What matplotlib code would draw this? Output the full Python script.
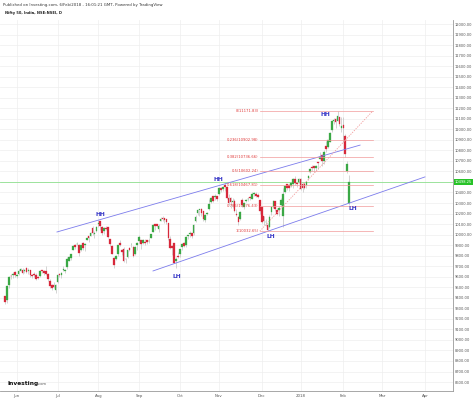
import numpy as np
import pandas as pd
import matplotlib
matplotlib.use('Agg')
import matplotlib.pyplot as plt
import matplotlib.transforms as mtransforms

# Nifty 50 daily bars, 24 May 2017 - 6 Feb 2018
opens = [9414, 9380, 9520, 9605, 9615, 9645,
         9605, 9628, 9657, 9667, 9651, 9680, 9650, 9662, 9620, 9620, 9617, 9590, 9603, 9660, 9650, 9650, 9630, 9560, 9525, 9520, 9470,
         9554, 9623, 9614, 9660, 9654, 9689, 9754, 9776, 9856, 9906, 9908, 9900, 9850, 9923, 9900, 9949, 9985, 9983, 10063, 10008, 10034,
         10101, 10125, 10075, 10032, 10066, 10074, 9960, 9895, 9780, 9770, 9812, 9920, 9850, 9865, 9770, 9785, 9875, 9907, 9886, 9813, 9905,
         9937, 9946, 9917, 9934, 9949, 9935, 9970, 10028, 10097, 10103, 10056, 10130, 10162, 10155, 10145, 10110, 9960, 9890, 9920, 9749, 9797,
         9814, 9887, 9921, 9901, 9989, 10007, 10012, 10011, 10125, 10207, 10233, 10244, 10223, 10140, 10200, 10243, 10311, 10363, 10353, 10364,
         10390, 10440, 10432, 10471, 10451, 10350, 10347, 10309, 10322, 10196, 10168, 10151, 10325, 10262, 10322, 10334, 10360, 10342, 10389, 10385, 10375, 10332,
         10263, 10175, 10118, 10087, 10068, 10218, 10263, 10317, 10235, 10230, 10279, 10180, 10403, 10477, 10474, 10460, 10480, 10531, 10493, 10500,
         10532, 10477, 10482, 10469, 10534, 10592, 10645, 10652, 10637, 10682, 10718, 10760, 10703, 10841, 10829, 10883, 10997, 11079, 11095, 11079, 11120, 11011,
         11045, 10938, 10604, 10296]
highs = [9419, 9525, 9604, 9625, 9649, 9655,
         9630, 9673, 9683, 9680, 9675, 9690, 9685, 9666, 9625, 9645, 9631, 9603, 9665, 9665, 9660, 9698, 9636, 9574, 9530, 9548, 9530,
         9624, 9631, 9645, 9700, 9676, 9783, 9798, 9819, 9897, 9913, 9928, 9907, 9904, 9928, 9924, 9982, 9986, 10023, 10084, 10036, 10085,
         10137, 10129, 10078, 10075, 10085, 10077, 9963, 9905, 9790, 9810, 9905, 9948, 9868, 9879, 9780, 9858, 9881, 9925, 9888, 9890, 9926,
         9995, 9948, 9963, 9955, 9953, 9964, 10010, 10099, 10098, 10103, 10098, 10172, 10179, 10162, 10153, 10115, 9986, 9897, 9920, 9788, 9832,
         9868, 9920, 9932, 9989, 10000, 10034, 10014, 10104, 10191, 10242, 10236, 10251, 10225, 10192, 10217, 10340, 10355, 10366, 10384, 10368,
         10451, 10453, 10462, 10490, 10461, 10384, 10355, 10344, 10334, 10248, 10175, 10224, 10343, 10311, 10340, 10358, 10369, 10402, 10403, 10400, 10391, 10332,
         10272, 10179, 10147, 10115, 10182, 10271, 10326, 10320, 10257, 10276, 10350, 10443, 10463, 10480, 10480, 10502, 10534, 10553, 10498, 10538,
         10537, 10495, 10504, 10513, 10566, 10631, 10659, 10655, 10664, 10690, 10782, 10763, 10803, 10887, 10895, 10975, 11092, 11111, 11111, 11172, 11121, 11118,
         11118, 10954, 10698, 10566]
lows = [9340, 9355, 9496, 9578, 9590, 9600,
        9587, 9620, 9650, 9628, 9631, 9640, 9630, 9600, 9590, 9600, 9570, 9575, 9595, 9632, 9615, 9620, 9560, 9490, 9475, 9490, 9448,
        9540, 9600, 9588, 9650, 9634, 9676, 9752, 9760, 9853, 9860, 9902, 9797, 9843, 9858, 9845, 9945, 9934, 9983, 10001, 9970, 10023,
        10072, 10044, 10000, 10003, 10046, 9972, 9890, 9813, 9685, 9755, 9795, 9890, 9808, 9740, 9735, 9776, 9842, 9882, 9786, 9810, 9850,
        9924, 9861, 9915, 9900, 9912, 9920, 9965, 10028, 10041, 10071, 10025, 10126, 10130, 10106, 10097, 9952, 9860, 9811, 9727, 9687, 9775,
        9790, 9856, 9880, 9887, 9960, 9981, 9966, 9996, 10123, 10191, 10179, 10175, 10131, 10124, 10183, 10232, 10298, 10311, 10330, 10322,
        10373, 10405, 10412, 10417, 10336, 10285, 10256, 10253, 10216, 10175, 10094, 10140, 10263, 10239, 10312, 10315, 10326, 10341, 10363, 10355, 10343, 10195,
        10108, 10095, 10080, 10033, 10062, 10188, 10256, 10225, 10184, 10176, 10271, 10074, 10396, 10420, 10414, 10448, 10443, 10475, 10448, 10488,
        10424, 10404, 10429, 10442, 10520, 10588, 10604, 10592, 10612, 10620, 10715, 10656, 10666, 10787, 10827, 10882, 10979, 11047, 11009, 11079, 11033, 10979,
        10878, 10737, 10586, 10277]
closes = [9360, 9510, 9595, 9604, 9625, 9621,
          9616, 9653, 9675, 9637, 9664, 9647, 9668, 9616, 9606, 9618, 9578, 9588, 9657, 9653, 9633, 9630, 9574, 9511, 9491, 9504, 9521,
          9616, 9613, 9637, 9675, 9665, 9771, 9786, 9816, 9892, 9886, 9915, 9828, 9899, 9873, 9915, 9966, 9964, 10020, 10020, 10014, 10077,
          10115, 10081, 10013, 10066, 10057, 9978, 9908, 9820, 9710, 9794, 9897, 9904, 9837, 9754, 9765, 9852, 9857, 9912, 9797, 9884, 9918,
          9974, 9913, 9952, 9916, 9930, 9935, 10007, 10093, 10079, 10086, 10085, 10153, 10148, 10141, 10121, 9964, 9872, 9871, 9735, 9768, 9789,
          9859, 9914, 9888, 9979, 9989, 10016, 9984, 10096, 10167, 10230, 10234, 10210, 10146, 10184, 10207, 10295, 10344, 10323, 10363, 10335,
          10440, 10424, 10452, 10452, 10350, 10303, 10308, 10322, 10225, 10186, 10118, 10214, 10283, 10298, 10327, 10342, 10348, 10389, 10399, 10370, 10361, 10227,
          10121, 10127, 10118, 10044, 10166, 10265, 10322, 10240, 10193, 10252, 10333, 10389, 10463, 10444, 10440, 10493, 10531, 10490, 10477, 10531,
          10435, 10443, 10443, 10504, 10559, 10624, 10637, 10632, 10651, 10681, 10741, 10700, 10789, 10817, 10895, 10966, 11083, 11086, 11070, 11130, 11050, 11028,
          11017, 10761, 10667, 10498]

holidays = ['2017-06-26', '2017-08-15', '2017-08-25', '2017-10-02', '2017-10-20', '2017-12-25', '2018-01-26']
last_price = 10498.25

# fibonacci retracement (Dec low -> Jan high)
fib_levels = [0, 0.236, 0.382, 0.5, 0.618, 0.786, 1]
fib_prices = [11171.83, 10902.98, 10736.66, 10602.24, 10467.81, 10276.43, 10032.65]
fib_x = [131, 189]

# channel lines (bar index, price)
upper_x, upper_y = [26.7, 182.6], [10025, 10850]
lower_x, lower_y = [76.1, 216.0], [9655, 10548]

pat_text = ['HH', 'HH', 'HH', 'LH', 'LH', 'LH']
pat_x = [48.8, 109.6, 164.6, 88.5, 136.8, 179.0]
pat_y = [10187, 10519, 11136, 9607, 9978, 10244]

# trading-day axis
days = pd.bdate_range('2017-05-24', '2018-04-30')
days = days[~days.isin(pd.to_datetime(holidays))]
n = len(closes)
x = np.arange(n)
o, h, l, c = map(np.array, (opens, highs, lows, closes))

up_col = '#3aa845'
dn_col = '#d7283a'

fig = plt.figure(figsize=(4.74, 3.99), dpi=100)
ax = fig.add_axes([0, 8 / 399, 453 / 474, 371 / 399])

# grid
month_idx, month_lab = [], []
for i in range(1, len(days)):
    if days[i].month != days[i - 1].month:
        month_idx.append(i)
        month_lab.append('2018' if days[i].month == 1 else days[i].strftime('%b'))
yt = np.arange(8600, 12001, 100)
for m in month_idx:
    ax.axvline(m, color='#eeeeee', lw=0.5, zorder=0)
for v in yt:
    ax.axhline(v, color='#eeeeee', lw=0.5, zorder=0)

# candles
up = c >= o
cols = np.where(up, up_col, dn_col)
ax.vlines(x, l, h, color='#b5b5b5', lw=0.4, zorder=2)
ax.bar(x, np.maximum(np.abs(c - o), 6), bottom=np.minimum(o, c), width=0.85,
       color=cols, edgecolor=cols, lw=0.2, zorder=3)

# current price line
ax.axhline(last_price, color='#8fe08f', lw=0.6, zorder=1)

# channel
ax.plot(upper_x, upper_y, color='#7c7cec', lw=0.6, zorder=4)
ax.plot(lower_x, lower_y, color='#7c7cec', lw=0.6, zorder=4)

# fibonacci
for lv, p in zip(fib_levels, fib_prices):
    ax.plot(fib_x, [p, p], color='#f29a9a', lw=0.5, zorder=4)
    ax.text(fib_x[0] - 0.6, p, f'{lv:g}({p:.2f})', fontsize=2.7, color='#e03a3a',
            ha='right', va='center', zorder=5)
ax.plot(fib_x, [fib_prices[-1], fib_prices[0]], color='#f29a9a', lw=0.6, ls=(0, (1.5, 1.5)), zorder=4)

for t, px, py in zip(pat_text, pat_x, pat_y):
    ax.text(px, py, t, fontsize=4.3, color='#3b3bc8', ha='center', va='center',
            fontweight='bold', zorder=6)

ax.set_xlim(-2.6, 230.4)
ax.set_ylim(8515, 12038)

ax.yaxis.tick_right()
ax.set_yticks(yt)
ax.set_yticklabels([f'{v:.2f}' for v in yt])
ax.set_xticks(month_idx)
ax.set_xticklabels(month_lab)
ax.tick_params(axis='y', labelsize=2.6, length=0, pad=1.5, colors='#555555')
ax.tick_params(axis='x', labelsize=2.8, length=0, pad=2, colors='#555555')
for s in ['top', 'left']:
    ax.spines[s].set_visible(False)
for s in ['right', 'bottom']:
    ax.spines[s].set_color('#999999')
    ax.spines[s].set_linewidth(0.6)

trans = mtransforms.blended_transform_factory(ax.transAxes, ax.transData)
ax.text(1.004, last_price, f'{last_price:.2f}', transform=trans, fontsize=2.6, color='white',
        ha='left', va='center', zorder=7,
        bbox=dict(boxstyle='square,pad=0.35', fc='#27c227', ec='none'))

fig.text(3 / 474, 1 - 5 / 399, 'Published on Investing.com, 6/Feb/2018 - 16:01:21 GMT, Powered by TradingView',
         fontsize=2.8, color='#333333', va='center')
fig.text(5 / 474, 1 - 13 / 399, 'Nifty 50, India, NSE:NSEI, D', fontsize=2.6, fontweight='bold',
         color='#222222', va='center')
fig.text(7 / 474, 1 - 383 / 399, 'Investing', fontsize=4.2, fontweight='bold', color='#111111', va='center')
fig.text(37.5 / 474, 1 - 384 / 399, '.com', fontsize=2.6, color='#555555', va='center')

fig.savefig('out.png', dpi=100)
